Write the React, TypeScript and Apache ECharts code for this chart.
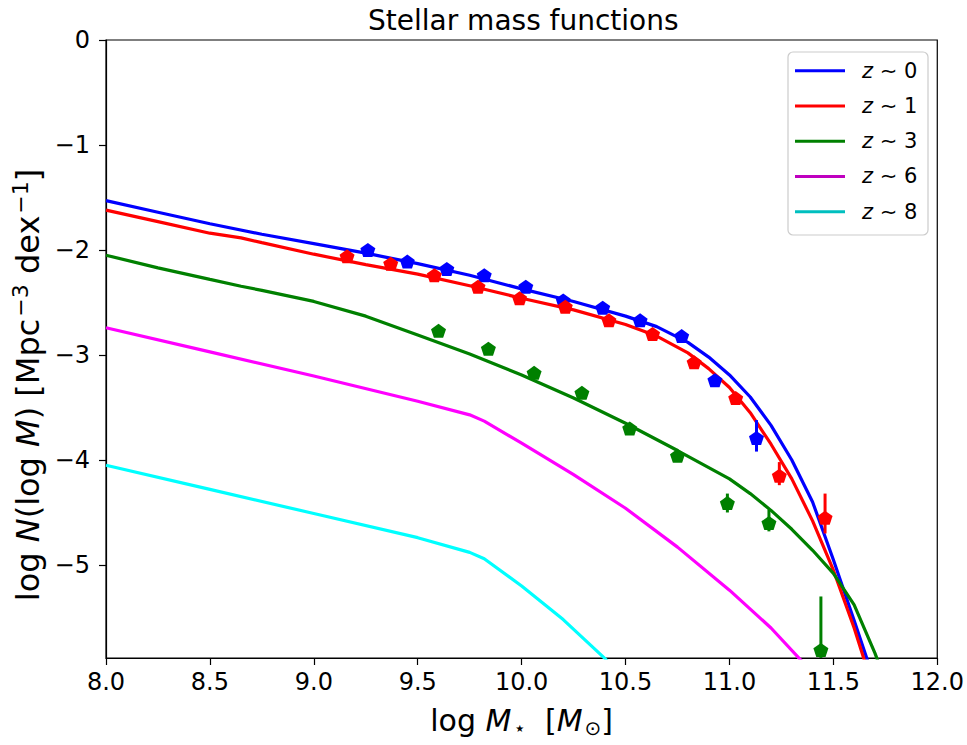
import React, { useEffect, useRef } from "react";
import * as echarts from "echarts";

// ---------- data ----------
const xMin = 8;
const xMax = 12;
const xTickStep = 0.5;
const yMin = -5.886;
const yMax = 0;
const yTickValues = [0, -1, -2, -3, -4, -5];

const seriesNames = ["z ∼ 0", "z ∼ 1", "z ∼ 3", "z ∼ 6", "z ∼ 8"];
const curveColors = ["#0000ff", "#ff0000", "#008000", "#ff00ff", "#00ffff"];
const legendColors = ["#0000ff", "#ff0000", "#008000", "#bf00bf", "#00bfbf"];

const z0Curve: [number, number][] = [
  [8.0, -1.53], [8.25, -1.64], [8.5, -1.75], [8.75, -1.85], [9.0, -1.94], [9.25, -2.03],
  [9.5, -2.13], [9.75, -2.24], [10.0, -2.37], [10.25, -2.49], [10.5, -2.63], [10.65, -2.73],
  [10.8, -2.88], [10.9, -3.02], [11.0, -3.19], [11.1, -3.4], [11.2, -3.67], [11.3, -4.0],
  [11.4, -4.4], [11.5, -4.95], [11.6, -5.53], [11.7, -6.12],
];
const z1Curve: [number, number][] = [
  [8.0, -1.62], [8.25, -1.73], [8.5, -1.84], [8.65, -1.885], [8.75, -1.93], [9.0, -2.04],
  [9.25, -2.14], [9.5, -2.23], [9.75, -2.34], [10.0, -2.46], [10.25, -2.57], [10.5, -2.71],
  [10.65, -2.82], [10.8, -2.98], [10.9, -3.13], [11.0, -3.31], [11.1, -3.55], [11.2, -3.85],
  [11.3, -4.18], [11.4, -4.58], [11.5, -5.05], [11.6, -5.6], [11.68, -6.1],
];
const z3Curve: [number, number][] = [
  [8.0, -2.05], [8.25, -2.17], [8.5, -2.28], [8.65, -2.345], [8.75, -2.385], [9.0, -2.49],
  [9.25, -2.63], [9.5, -2.81], [9.75, -2.99], [10.0, -3.19], [10.25, -3.41], [10.5, -3.65],
  [10.75, -3.91], [11.0, -4.18], [11.1, -4.32], [11.2, -4.48], [11.3, -4.66], [11.4, -4.86],
  [11.5, -5.08], [11.6, -5.38], [11.7, -5.84], [11.75, -6.1],
];
const z6Curve: [number, number][] = [
  [8.0, -2.74], [8.5, -2.97], [9.0, -3.2], [9.5, -3.44], [9.75, -3.57], [9.82, -3.63],
  [10.0, -3.84], [10.25, -4.14], [10.5, -4.46], [10.75, -4.83], [11.0, -5.24],
  [11.2, -5.6], [11.35, -5.92],
];
const z8Curve: [number, number][] = [
  [8.0, -4.05], [8.5, -4.28], [9.0, -4.51], [9.5, -4.74], [9.75, -4.88], [9.82, -4.94],
  [10.0, -5.2], [10.2, -5.52], [10.4, -5.89], [10.45, -5.99],
];

const z0Points: [number, number][] = [
  [9.26, -2.0], [9.45, -2.11], [9.64, -2.18], [9.82, -2.24], [10.02, -2.35], [10.2, -2.48],
  [10.39, -2.55], [10.57, -2.67], [10.77, -2.82], [10.93, -3.24], [11.13, -3.79],
];
const z1Points: [number, number][] = [
  [9.16, -2.06], [9.37, -2.13], [9.58, -2.24], [9.79, -2.35], [9.99, -2.46], [10.21, -2.54],
  [10.42, -2.67], [10.63, -2.8], [10.83, -3.07], [11.03, -3.41], [11.24, -4.15], [11.46, -4.55],
];
const z3Points: [number, number][] = [
  [9.6, -2.77], [9.84, -2.94], [10.06, -3.17], [10.29, -3.36], [10.52, -3.7], [10.75, -3.96],
  [10.99, -4.41], [11.19, -4.6], [11.44, -5.81],
];

// [x, low, high]
const z0Errors: [number, number, number][] = [[11.13, -3.92, -3.62]];
const z1Errors: [number, number, number][] = [[11.24, -4.24, -4.02], [11.46, -4.7, -4.32]];
const z3Errors: [number, number, number][] = [
  [10.99, -4.5, -4.32], [11.19, -4.68, -4.47], [11.44, -6.0, -5.3],
];

// ---------- styling ----------
const FONT = "DejaVu Sans";
const pentagon = "path://M0,-10L9.51,-3.09L5.88,8.09L-5.88,8.09L-9.51,-3.09Z";

function errorSeries(data: [number, number, number][], color: string) {
  return {
    type: "custom",
    data,
    clip: true,
    z: 4,
    encode: { x: 0, y: [1, 2] },
    renderItem: (_params: any, api: any) => {
      const p1 = api.coord([api.value(0), api.value(1)]);
      const p2 = api.coord([api.value(0), api.value(2)]);
      return {
        type: "line",
        shape: { x1: p1[0], y1: p1[1], x2: p2[0], y2: p2[1] },
        style: { stroke: color, lineWidth: 3 },
      };
    },
  };
}

function pointSeries(data: [number, number][], color: string) {
  return {
    type: "scatter",
    data,
    symbol: pentagon,
    symbolSize: [15, 14],
    itemStyle: { color, opacity: 1 },
    z: 5,
    silent: true,
  };
}

export default function App() {
  const ref = useRef<HTMLDivElement>(null);

  useEffect(() => {
    if (!ref.current) return;
    const chart = echarts.init(ref.current, undefined, { renderer: "svg" });

    const curves = [z0Curve, z1Curve, z3Curve, z6Curve, z8Curve];

    const legendX = 788;
    const legendY = 52;
    const graphics: any[] = [
      {
        type: "rect",
        shape: { x: legendX, y: legendY, width: 140, height: 183, r: 5 },
        style: { fill: "rgba(255,255,255,0.8)", stroke: "#cccccc", lineWidth: 1.2 },
        z: 100,
      },
      {
        type: "text",
        x: 28,
        y: 385,
        rotation: Math.PI / 2,
        style: {
          text: "{n|log }{i|N}{n|(log }{i|M}{n|) [Mpc}{u|−3}{n| dex}{u|−1}{n|]}",
          rich: {
            n: { fontFamily: FONT, fontSize: 32, fill: "#000" },
            i: { fontFamily: FONT, fontSize: 32, fontStyle: "italic", fill: "#000" },
            u: { fontFamily: FONT, fontSize: 22, fill: "#000", padding: [0, 0, 15, 2] },
          },
          align: "center",
          verticalAlign: "middle",
        },
        z: 50,
      },
    ];
    seriesNames.forEach((name, i) => {
      const yy = 70.7 + i * 35.25;
      graphics.push({
        type: "line",
        shape: { x1: 795, y1: yy, x2: 845, y2: yy },
        style: { stroke: legendColors[i], lineWidth: 3 },
        z: 101,
      });
      const rest = name.slice(1);
      graphics.push({
        type: "text",
        x: 862,
        y: yy,
        style: {
          text: `{i|z}{n|${rest}}`,
          rich: {
            i: { fontFamily: FONT, fontStyle: "italic", fontSize: 21, fill: "#000" },
            n: { fontFamily: FONT, fontSize: 21, fill: "#000" },
          },
          verticalAlign: "middle",
          align: "left",
        },
        z: 102,
      });
    });

    const option: any = {
      animation: false,
      backgroundColor: "#ffffff",
      title: {
        text: "Stellar mass functions",
        left: 363,
        top: 1,
        textStyle: { fontFamily: FONT, fontSize: 28, fontWeight: "normal", color: "#000" },
      },
      grid: {
        left: 106,
        right: 29,
        top: 40,
        bottom: 87,
        show: true,
        borderColor: "#000",
        borderWidth: 1.2,
        backgroundColor: "transparent",
      },
      xAxis: {
        type: "value",
        min: xMin,
        max: xMax,
        interval: xTickStep,
        name: "{n|log }{i|M}{s|⋆}{n|  [}{i|M}{s|⊙}{n|]}",
        nameLocation: "middle",
        nameGap: 45,
        nameTextStyle: {
          rich: {
            n: { fontFamily: FONT, fontSize: 30, color: "#000" },
            i: { fontFamily: FONT, fontSize: 30, fontStyle: "italic", color: "#000" },
            s: { fontFamily: FONT, fontSize: 20, color: "#000", padding: [15, 0, 0, 2] },
          },
        },
        axisLine: { show: true, onZero: false, lineStyle: { color: "#000", width: 1.2 } },
        axisTick: { show: true, inside: false, length: 7, lineStyle: { color: "#000", width: 1.2 } },
        axisLabel: {
          fontFamily: FONT,
          fontSize: 24,
          color: "#000",
          margin: 12,
          formatter: (v: number) => v.toFixed(1),
        },
        splitLine: { show: false },
      },
      yAxis: {
        type: "value",
        min: yMin,
        max: yMax,
        axisLine: { show: true, onZero: false, lineStyle: { color: "#000", width: 1.2 } },
        axisTick: {
          show: true,
          inside: false,
          length: 7,
          customValues: yTickValues,
          lineStyle: { color: "#000", width: 1.2 },
        },
        axisLabel: {
          fontFamily: FONT,
          fontSize: 24,
          color: "#000",
          margin: 16,
          customValues: yTickValues,
          formatter: (v: number) => (v === 0 ? "0" : "\u2212" + Math.abs(v).toString()),
        },
        splitLine: { show: false },
      },
      graphic: graphics,
      series: [
        ...curves.map((c, i) => ({
          type: "line",
          name: seriesNames[i],
          data: c,
          showSymbol: false,
          symbol: "none",
          smooth: false,
          clip: true,
          z: 2,
          lineStyle: { color: curveColors[i], width: 3.2 },
          itemStyle: { color: curveColors[i] },
          silent: true,
        })),
        errorSeries(z0Errors, curveColors[0]),
        errorSeries(z1Errors, curveColors[1]),
        errorSeries(z3Errors, curveColors[2]),
        pointSeries(z0Points, curveColors[0]),
        pointSeries(z1Points, curveColors[1]),
        pointSeries(z3Points, curveColors[2]),
      ],
    };

    chart.setOption(option);
    return () => chart.dispose();
  }, []);

  return (
    <div
      ref={ref}
      style={{ position: "fixed", left: 0, top: 0, width: 967, height: 745, background: "#fff" }}
    />
  );
}
